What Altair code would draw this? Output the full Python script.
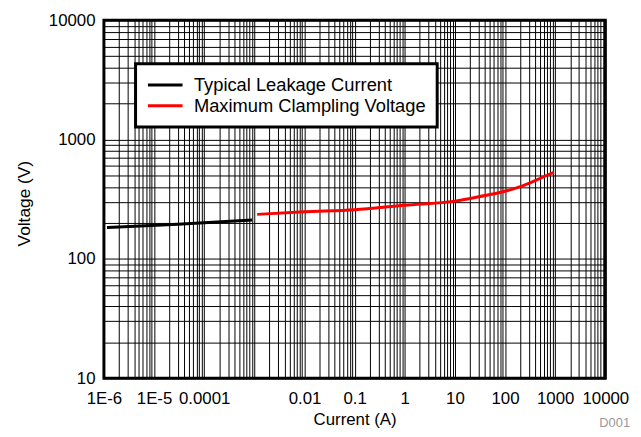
import altair as alt
import pandas as pd

# ---- data ----
leak_current = [1.15e-6, 3e-5, 9e-4]
leak_voltage = [183, 195, 212]

clamp_current = [0.00114, 0.01, 0.1, 1, 10, 40, 72, 208, 441, 943]
clamp_voltage = [236, 248, 258, 282, 305, 340, 357, 405, 462, 532]

series_names = ["Typical Leakage Current", "Maximum Clampling Voltage"]
series_colors = ["#000000", "#ff0000"]

x_label_values = [1e-06, 1e-05, 0.0001, 0.01, 0.1, 1.0, 10.0, 100.0, 1000.0, 10000.0]
x_label_texts = ["1E-6", "1E-5", "0.0001", "0.01", "0.1", "1", "10", "100", "1000", "10000"]
y_label_values = [10.0, 100.0, 1000.0, 10000.0]
y_label_texts = ["10", "100", "1000", "10000"]

x_decades = list(range(-6, 4))
y_decades = list(range(1, 4))

x_grid = [float(f"{k}e{e}") for e in x_decades for k in range(1, 10)] + [1e4]
y_grid = [float(f"{k}e{e}") for e in y_decades for k in range(1, 10)] + [1e4]


def label_expr(vals, texts):
    expr = "''"
    for v, t in reversed(list(zip(vals, texts))):
        expr = f"datum.value == {repr(float(v))} ? '{t}' : ({expr})"
    return expr


df = pd.concat([
    pd.DataFrame({"current": leak_current, "voltage": leak_voltage, "series": series_names[0]}),
    pd.DataFrame({"current": clamp_current, "voltage": clamp_voltage, "series": series_names[1]}),
])

FONT = "Liberation Sans"

lines = alt.Chart(df).mark_line(strokeWidth=3, interpolate="monotone").encode(
    x=alt.X(
        "current:Q",
        scale=alt.Scale(type="log", domain=[1e-6, 1e4], nice=False),
        axis=alt.Axis(
            values=x_grid,
            labelExpr=label_expr(x_label_values, x_label_texts),
            grid=True, gridColor="#000000", gridWidth=1, gridOpacity=1,
            ticks=False, tickSize=0, domain=False,
            labelFontSize=17, labelColor="#000000", labelPadding=13,
            labelFlush=False, labelOverlap=False,
            title="Current (A)", titleFontSize=17, titleFontWeight="normal",
            titleColor="#000000", titleY=47, titleBaseline="alphabetic",
        ),
    ),
    y=alt.Y(
        "voltage:Q",
        scale=alt.Scale(type="log", domain=[10, 1e4], nice=False),
        axis=alt.Axis(
            values=y_grid,
            labelExpr=label_expr(y_label_values, y_label_texts),
            grid=True, gridColor="#000000", gridWidth=1, gridOpacity=1,
            ticks=False, tickSize=0, domain=False,
            labelFontSize=17, labelColor="#000000", labelPadding=9,
            labelOverlap=False,
            title="Voltage (V)", titleFontSize=17.5, titleFontWeight="normal",
            titleColor="#000000", titleX=-80, titleY=185, titleBaseline="middle",
        ),
    ),
    color=alt.Color(
        "series:N",
        scale=alt.Scale(domain=series_names, range=series_colors),
        sort=series_names,
        legend=alt.Legend(
            title=None, orient="none", legendX=32, legendY=44,
            symbolType="stroke", symbolSize=1225, symbolStrokeWidth=3,
            labelFontSize=18.5, labelColor="#000000", labelOffset=10,
            labelLimit=500, clipHeight=21,
            padding=11, rowPadding=0,
            strokeColor="#000000", fillColor="#ffffff",
        ),
    ),
)

note = alt.Chart(pd.DataFrame({"t": ["D001"]})).mark_text(
    align="right", baseline="alphabetic", fontSize=13, color="#999999", font=FONT
).encode(x=alt.value(532), y=alt.value(411), text="t:N")

chart = alt.layer(lines, note).properties(
    width=507, height=362,
    padding={"left": 97, "top": 10, "right": 28, "bottom": 50},
    autosize="none",
).configure(font=FONT).configure_view(
    stroke="#000000", strokeWidth=3
).configure_legend(strokeWidth=3)

chart.save("out.html", embed_options={"renderer": "svg", "actions": False})
